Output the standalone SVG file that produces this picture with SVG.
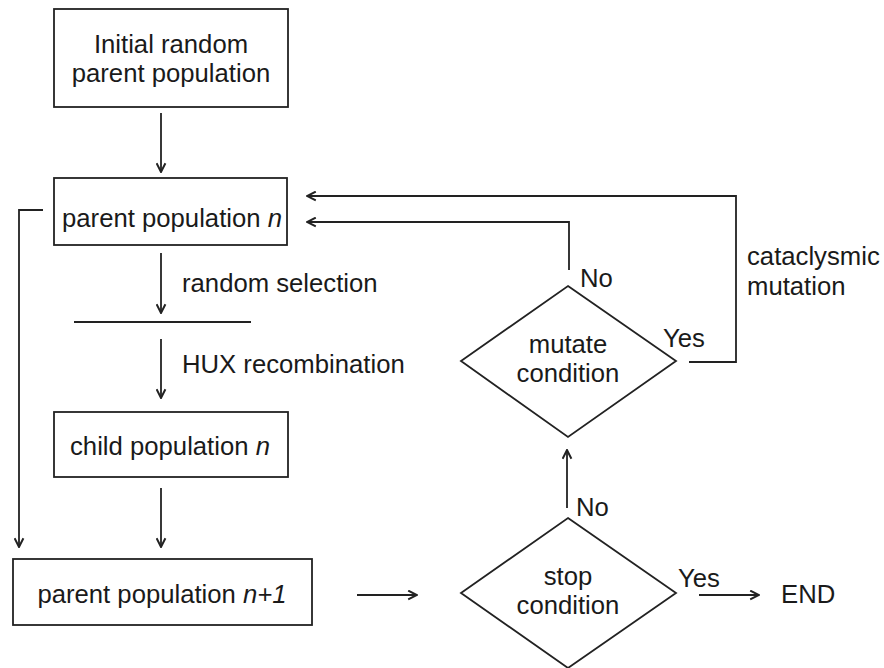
<svg xmlns="http://www.w3.org/2000/svg" width="884" height="668" viewBox="0 0 884 668">
  <style>
    .box { fill: #fff; stroke: #222; stroke-width: 1.8; }
    .edge { fill: none; stroke: #222; stroke-width: 1.8; }
    text { font-family: "Liberation Sans", Arial, sans-serif; font-size: 25.7px; fill: #1a1a1a; }
    .c { text-anchor: middle; }
  </style>
  <defs>
    <marker id="arrow" viewBox="0 0 10 10" refX="9" refY="5" markerWidth="11" markerHeight="11" markerUnits="userSpaceOnUse" orient="auto">
      <path d="M1,1 L9,5 L1,9" fill="none" stroke="#222" stroke-width="1.8"/>
    </marker>
  </defs>

  <rect width="884" height="668" fill="#fff"/>

  <g id="init">
    <rect class="box" x="54" y="9" width="234" height="98"/>
    <text class="c" x="171" y="53">Initial random</text>
    <text class="c" x="171" y="82">parent population</text>
  </g>

  <g id="parent-n">
    <rect class="box" x="54" y="178" width="233" height="67"/>
    <text class="c" x="172" y="227">parent population <tspan font-style="italic">n</tspan></text>
  </g>

  <g id="selection-bar">
    <line class="edge" x1="74" y1="322" x2="251" y2="322"/>
  </g>

  <g id="child-n">
    <rect class="box" x="54" y="412" width="234" height="65"/>
    <text class="c" x="170" y="455">child population <tspan font-style="italic">n</tspan></text>
  </g>

  <g id="parent-n1">
    <rect class="box" x="13" y="559" width="299" height="66"/>
    <text class="c" x="162" y="603">parent population <tspan font-style="italic">n+1</tspan></text>
  </g>

  <g id="mutate">
    <polygon class="box" points="568,286 676,361 568,437 461,361"/>
    <text class="c" x="568" y="353">mutate</text>
    <text class="c" x="568" y="382">condition</text>
  </g>

  <g id="stop">
    <polygon class="box" points="568,518 676,593 568,668 461,593"/>
    <text class="c" x="568" y="585">stop</text>
    <text class="c" x="568" y="614">condition</text>
  </g>

  <g id="end">
    <text x="781" y="603">END</text>
  </g>

  <g id="connectors">
    <line class="edge" x1="161" y1="113" x2="161" y2="172" marker-end="url(#arrow)"/>
    <line class="edge" x1="161" y1="253" x2="161" y2="313" marker-end="url(#arrow)"/>
    <line class="edge" x1="161" y1="339" x2="161" y2="398" marker-end="url(#arrow)"/>
    <line class="edge" x1="161" y1="488" x2="161" y2="547" marker-end="url(#arrow)"/>
    <polyline class="edge" points="43,210 19,210 19,547" marker-end="url(#arrow)"/>
    <line class="edge" x1="357" y1="595" x2="417" y2="595" marker-end="url(#arrow)"/>
    <line class="edge" x1="699" y1="595" x2="759" y2="595" marker-end="url(#arrow)"/>
    <line class="edge" x1="567" y1="508" x2="567" y2="450" marker-end="url(#arrow)"/>
    <polyline class="edge" points="569,270 569,222 307,222" marker-end="url(#arrow)"/>
    <polyline class="edge" points="689,362 736,362 736,196 307,196" marker-end="url(#arrow)"/>
  </g>

  <g id="labels">
    <text x="182" y="292">random selection</text>
    <text x="182" y="373">HUX recombination</text>
    <text x="580" y="287">No</text>
    <text x="663" y="347">Yes</text>
    <text x="576" y="516">No</text>
    <text x="678" y="587">Yes</text>
    <text x="747" y="265">cataclysmic</text>
    <text x="747" y="295">mutation</text>
  </g>
</svg>
